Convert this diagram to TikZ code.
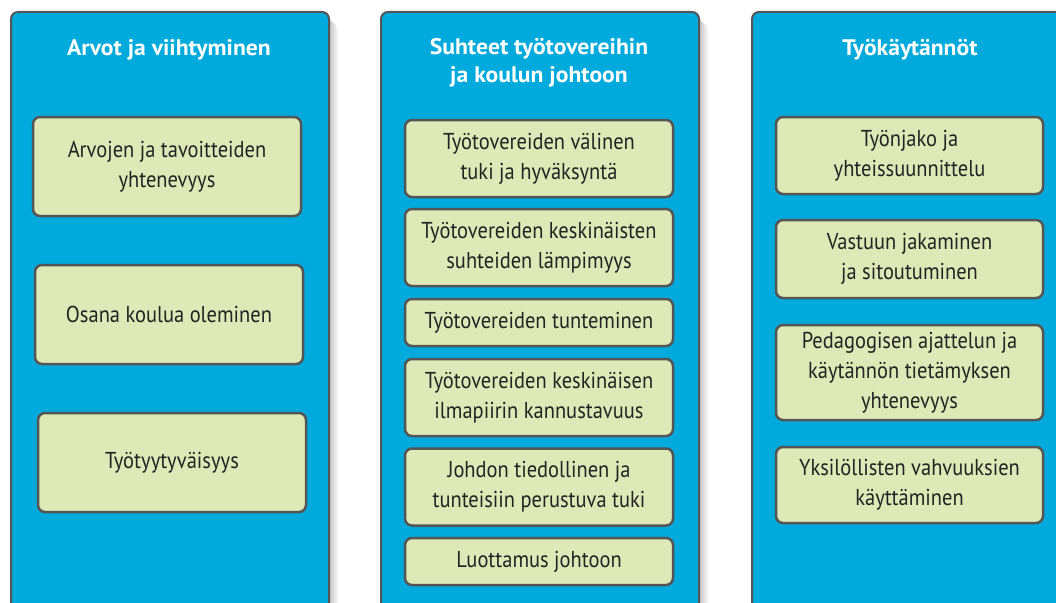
\documentclass[tikz,border=0pt]{standalone}
\usepackage{fontspec}
\setmainfont{PT Sans}
\newfontfamily\boxfont[FakeStretch=0.89]{PT Sans}
\newfontfamily\headfont[FakeStretch=1.05]{PT Sans}
\definecolor{colblue}{RGB}{0,170,220}
\definecolor{boxgreen}{RGB}{221,233,183}
\definecolor{edgegray}{RGB}{85,85,85}
\definecolor{txtdark}{RGB}{35,35,35}
\tikzset{
  column/.style={draw=edgegray, line width=2pt, fill=colblue, rounded corners=7pt,
    minimum width=318pt, minimum height=640pt, anchor=north west, inner sep=0pt},
  colshadow/.style={fill=black, opacity=0.05, rounded corners=10pt},
  heading/.style={text=white, font=\headfont\bfseries\fontsize{22.5}{28}\selectfont, align=center},
  item/.style={draw=edgegray, line width=2.5pt, fill=boxgreen, rounded corners=7pt,
    minimum width=268pt, text=txtdark, align=center, inner sep=0pt,
    font=\boxfont\fontsize{23}{30}\selectfont}
}
\begin{document}
\begin{tikzpicture}[x=1pt,y=-1pt]
\useasboundingbox (0,0) rectangle (1056,602);
\clip (0,0) rectangle (1056,602);
% soft shadows
\foreach \s in {2,4,6,8,10}{
  \fill[colshadow] (10+\s,11+\s) rectangle (328+\s,640);
  \fill[colshadow] (380+\s,11+\s) rectangle (698+\s,640);
  \fill[colshadow] (751+\s,11+\s) rectangle (1069+\s,640);
}
% columns
\node[column] (c1) at (10,11) {};
\node[column] (c2) at (380,11) {};
\node[column] (c3) at (751,11) {};
% headings
\node[heading] (h1) at (169,50) {Arvot ja viihtyminen};
\node[heading] (h2) at (539,63) {Suhteet työtovereihin\\ja koulun johtoon};
\node[heading] (h3) at (910,50) {Työkäytännöt};
% left column
\node[item, minimum height=99pt] (l1) at (167,166.5) {Arvojen ja tavoitteiden\\yhtenevyys};
\node[item, minimum height=99pt] (l2) at (169,314.5) {Osana koulua oleminen};
\node[item, minimum height=99pt] (l3) at (172,462.5) {Työtyytyväisyys};
% middle column
\node[item, minimum height=77pt] (m1) at (539,158.5) {Työtovereiden välinen\\tuki ja hyväksyntä};
\node[item, minimum height=77pt] (m2) at (539,247.5) {Työtovereiden keskinäisten\\suhteiden lämpimyys};
\node[item, minimum height=47pt] (m3) at (539,322.5) {Työtovereiden tunteminen};
\node[item, minimum height=77pt] (m4) at (539,397.5) {Työtovereiden keskinäisen\\ilmapiirin kannustavuus};
\node[item, minimum height=77pt] (m5) at (539,487) {Johdon tiedollinen ja\\tunteisiin perustuva tuki};
\node[item, minimum height=47pt] (m6) at (539,561.5) {Luottamus johtoon};
% right column
\node[item, minimum height=77pt, minimum width=267pt] (r1) at (909.5,155.5) {Työnjako ja\\yhteissuunnittelu};
\node[item, minimum height=78pt, minimum width=267pt] (r2) at (909.5,259) {Vastuun jakaminen\\ja sitoutuminen};
\node[item, minimum height=95pt, minimum width=267pt] (r3) at (909.5,372.5) {Pedagogisen ajattelun ja\\käytännön tietämyksen\\yhtenevyys};
\node[item, minimum height=76pt, minimum width=267pt] (r4) at (909.5,485) {Yksilöllisten vahvuuksien\\käyttäminen};
\end{tikzpicture}
\end{document}
